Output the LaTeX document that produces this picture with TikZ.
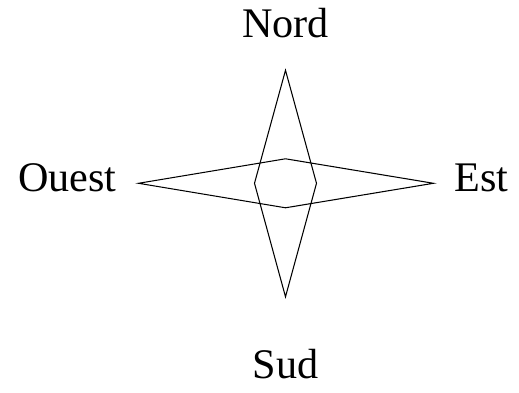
\documentclass[tikz,border=0pt]{standalone}
\usepackage{fontspec}
\setmainfont{Liberation Serif}
\begin{document}
\begin{tikzpicture}[line width=0.6pt,font=\fontsize{24}{28}\selectfont]
\useasboundingbox (-5.71,-4.194) rectangle (4.67,3.666);
\coordinate (o) at (0,0);
\coordinate (n) at (90:2.26);
\coordinate (s) at (270:2.27);
\coordinate (w) at (180:0.62);
\coordinate (e) at (0:0.62);
\coordinate (w1) at (180:2.94);
\coordinate (e1) at (0:2.96);
\coordinate (n1) at (90:0.49);
\coordinate (s1) at (270:0.49);

\draw (n) -- (e) -- (s) -- (w) -- cycle;
\draw (w1) -- (n1) -- (e1) -- (s1) -- cycle;

\node[anchor=base] (nord) at (0,2.92) {Nord};
\node[anchor=base] (sud) at (0,-3.9) {Sud};
\node[anchor=base] (ouest) at (-4.36,-0.168) {Ouest};
\node[anchor=base] (est) at (3.92,-0.168) {Est};

\end{tikzpicture}
\end{document}
